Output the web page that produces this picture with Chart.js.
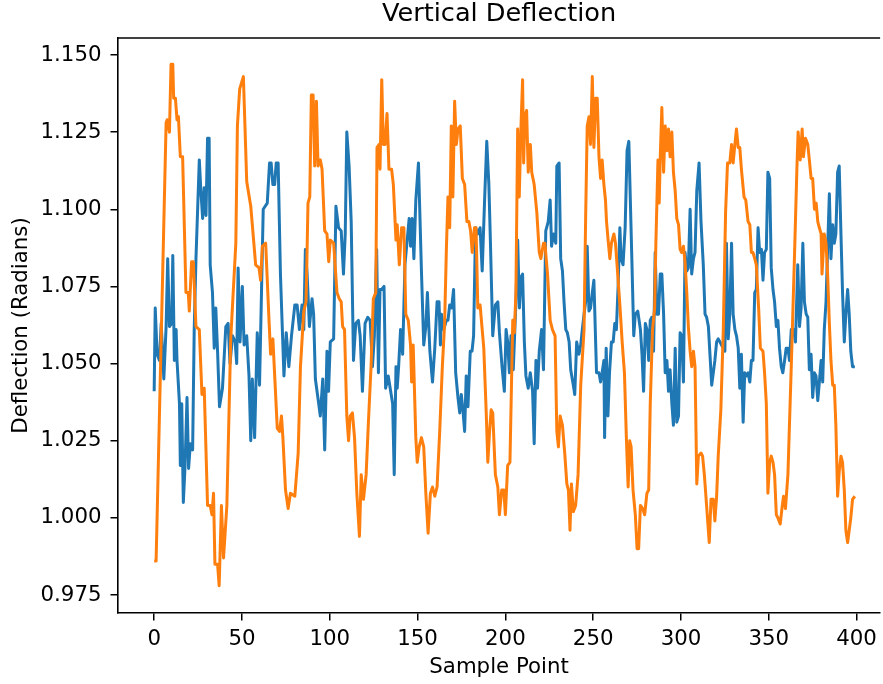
<!DOCTYPE html>
<html><head><meta charset="utf-8">
<script src="https://cdn.jsdelivr.net/npm/chart.js@4/dist/chart.umd.min.js"></script>
<style>html,body{margin:0;padding:0;background:#fff;}canvas{display:block;}</style>
</head><body>
<canvas id="c" width="883" height="684"></canvas>
<script>
const chartTitle = 'Vertical Deflection';
const xAxisLabel = 'Sample Point';
const yAxisLabel = 'Deflection (Radians)';
const xTickValues = [0, 50, 100, 150, 200, 250, 300, 350, 400];
const yTickValues = [0.975, 1.000, 1.025, 1.050, 1.075, 1.100, 1.125, 1.150];
const yTickLabels = ['0.975', '1.000', '1.025', '1.050', '1.075', '1.100', '1.125', '1.150'];

// [sample point, deflection]
const blueReadings = [[0,1.041],[0.6,1.068],[1.7,1.053],[3,1.051],[4,1.063],[5.5,1.045],[6.8,1.062],[7.7,1.084],[8.7,1.062],[10,1.063],[10.6,1.085],[11.5,1.051],[12.5,1.061],[13,1.051],[14.4,1.037],[14.9,1.017],[15.7,1.037],[16.6,1.005],[17.6,1.017],[18.7,1.039],[19.6,1.016],[20.6,1.024],[21.9,1.022],[22.8,1.061],[23.8,1.084],[25.7,1.116],[26.6,1.106],[27.6,1.097],[28.5,1.107],[29.5,1.098],[30.4,1.123],[31.3,1.123],[31.9,1.082],[33.2,1.073],[34.2,1.055],[35.1,1.068],[36.1,1.054],[37.2,1.036],[38.9,1.042],[40.8,1.062],[42.1,1.063],[43.2,1.050],[44.6,1.059],[46.1,1.057],[47,1.050],[47.8,1.081],[48.9,1.057],[50.2,1.075],[51.2,1.056],[52.7,1.059],[54,1.046],[55,1.025],[55.9,1.045],[57.2,1.026],[58.7,1.060],[60,1.043],[61,1.070],[62.1,1.100],[64.4,1.102],[65.7,1.115],[66.6,1.115],[67.6,1.108],[68.6,1.108],[69.5,1.115],[70.6,1.115],[71.9,1.079],[73.9,1.046],[75.2,1.060],[76.7,1.049],[78.2,1.059],[80.1,1.069],[81.4,1.069],[82.7,1.061],[84.2,1.069],[85.2,1.061],[86.1,1.087],[87.1,1.079],[88.4,1.062],[89.9,1.071],[90.8,1.066],[91.8,1.045],[93.7,1.037],[94.6,1.033],[96,1.045],[97.1,1.022],[98.4,1.054],[99.3,1.041],[100.3,1.057],[102.2,1.058],[103.5,1.101],[105,1.094],[106.5,1.093],[107.8,1.079],[108.8,1.092],[109.7,1.125],[111,1.114],[112.2,1.096],[113.5,1.051],[114.8,1.063],[116.3,1.064],[117.3,1.059],[118.6,1.041],[120.1,1.063],[121.6,1.065],[123,1.064],[124.3,1.049],[125.4,1.059],[126.7,1.087],[127.7,1.047],[128.6,1.074],[129.6,1.074],[130.9,1.075],[131.8,1.042],[133.3,1.046],[135.8,1.037],[136.7,1.014],[137.7,1.049],[138.4,1.042],[139.2,1.049],[140.3,1.061],[141.5,1.053],[142.8,1.082],[145.2,1.097],[146,1.088],[146.9,1.097],[147.9,1.084],[149,1.103],[150.5,1.115],[152.2,1.080],[153.5,1.056],[154.7,1.062],[155.6,1.073],[157,1.054],[158.5,1.044],[159.8,1.055],[161.1,1.070],[162.2,1.070],[163,1.056],[163.6,1.066],[164.9,1.061],[166.4,1.064],[167.3,1.064],[168.3,1.069],[169.4,1.068],[170.5,1.074],[171.7,1.047],[173,1.039],[174,1.034],[174.9,1.040],[175.8,1.035],[176.8,1.028],[177.7,1.046],[178.7,1.036],[180,1.054],[181,1.054],[181.9,1.059],[183,1.094],[184.3,1.092],[185.6,1.094],[186.8,1.080],[188.1,1.102],[189.4,1.122],[190.6,1.108],[191.5,1.089],[192.8,1.059],[194.3,1.069],[195.7,1.070],[196.6,1.060],[198.1,1.049],[199.4,1.041],[200.4,1.061],[201.3,1.057],[202.3,1.047],[203.2,1.059],[204.5,1.048],[206,1.070],[207,1.090],[208,1.068],[208.9,1.078],[209.8,1.079],[210.8,1.057],[211.7,1.046],[213,1.042],[214.2,1.047],[215.5,1.041],[216.4,1.024],[217.4,1.051],[218.3,1.042],[219.3,1.054],[220.6,1.061],[221.7,1.048],[223,1.093],[224.4,1.096],[225.5,1.103],[226.3,1.088],[227.4,1.092],[228.7,1.089],[229.3,1.114],[230.6,1.115],[231.5,1.084],[232.5,1.080],[233.4,1.070],[234.4,1.061],[235.3,1.060],[236.3,1.057],[237.2,1.048],[238.7,1.043],[239.5,1.040],[240.6,1.057],[241.9,1.053],[242.9,1.056],[243.8,1.061],[244.8,1.066],[245.7,1.070],[246.6,1.088],[247.6,1.067],[248.5,1.068],[249.5,1.073],[250.4,1.077],[251.4,1.057],[251.9,1.047],[253.3,1.047],[254.2,1.044],[255.1,1.047],[256.1,1.051],[256.5,1.026],[257.4,1.055],[258.4,1.033],[259.3,1.047],[260.4,1.057],[261.4,1.057],[262.3,1.063],[263.2,1.061],[264.2,1.075],[265.2,1.094],[265.9,1.084],[267,1.082],[268.2,1.094],[269.3,1.119],[270.3,1.122],[271.2,1.102],[272.1,1.082],[273.1,1.059],[274,1.066],[275.4,1.067],[276.9,1.061],[277.8,1.053],[278.7,1.041],[279.7,1.063],[280.6,1.061],[281.6,1.051],[282.5,1.064],[283.4,1.065],[284.4,1.054],[285.3,1.086],[286.3,1.066],[287.2,1.066],[288.2,1.079],[289.1,1.079],[290.1,1.066],[291,1.047],[292,1.051],[292.9,1.041],[293.8,1.048],[294.8,1.037],[295.7,1.030],[296.7,1.055],[297.6,1.031],[298.6,1.033],[299.5,1.060],[300.4,1.059],[301.4,1.044],[302.3,1.086],[303.3,1.080],[304.2,1.081],[305.2,1.100],[306.1,1.079],[307.1,1.084],[308,1.086],[309,1.106],[310.3,1.115],[311.4,1.096],[312.7,1.082],[313.7,1.066],[314.6,1.065],[315.6,1.062],[316.5,1.053],[317.5,1.043],[318.4,1.047],[319.3,1.051],[320.3,1.057],[321.2,1.058],[322.2,1.057],[323.1,1.056],[324,1.055],[325,1.054],[325.9,1.089],[326.9,1.058],[327.8,1.066],[328.8,1.089],[329.7,1.066],[330.7,1.061],[331.6,1.059],[332.6,1.055],[333.5,1.042],[334.4,1.053],[335.4,1.031],[336.3,1.047],[337.3,1.046],[338.2,1.047],[339.2,1.044],[340.1,1.051],[341,1.051],[342,1.073],[342.9,1.074],[343.9,1.094],[344.8,1.086],[345.8,1.087],[346.7,1.077],[347.6,1.086],[348.6,1.087],[349.5,1.112],[350.5,1.110],[351.4,1.081],[352.4,1.074],[353.3,1.070],[354.3,1.062],[355.2,1.064],[356.1,1.055],[357.1,1.049],[358,1.047],[359,1.051],[359.9,1.055],[360.9,1.055],[361.8,1.051],[362.8,1.061],[364.1,1.061],[365.2,1.057],[366.5,1.082],[367.5,1.062],[368.4,1.068],[369.4,1.089],[370.3,1.070],[371.3,1.066],[372.2,1.065],[373.1,1.048],[374.1,1.053],[375,1.039],[376,1.047],[376.9,1.046],[377.9,1.038],[378.8,1.044],[379.8,1.051],[380.7,1.044],[381.6,1.061],[382.6,1.070],[383.5,1.087],[384.5,1.105],[385.4,1.084],[386.4,1.095],[387.3,1.089],[388.2,1.092],[389.2,1.112],[390.1,1.114],[391.1,1.092],[392,1.073],[393,1.057],[393.9,1.066],[394.9,1.074],[395.8,1.066],[396.7,1.054],[397.7,1.049],[399,1.049]];

const orangeReadings = [[0,0.986],[1.1,0.986],[6.8,1.128],[7.4,1.129],[8.7,1.125],[9.6,1.147],[10.6,1.147],[11.1,1.136],[12.1,1.136],[13,1.129],[13.8,1.130],[14.9,1.117],[16.2,1.117],[18.1,1.073],[19.4,1.073],[20,1.067],[21.3,1.083],[22.3,1.083],[23.8,1.062],[25.7,1.061],[27.2,1.040],[28.5,1.042],[30.4,1.004],[31.9,1.004],[32.9,1.001],[33.8,1.008],[34.6,0.985],[36.1,0.985],[37,0.978],[38.3,1.004],[39.5,0.987],[41.4,1.004],[43.6,1.058],[46.5,1.089],[47.4,1.127],[48.7,1.139],[50.8,1.143],[52.7,1.109],[55,1.101],[57.8,1.082],[59.7,1.081],[60.6,1.077],[61.6,1.088],[63.5,1.089],[65.4,1.064],[66.3,1.053],[67.6,1.058],[70.1,1.029],[71.4,1.028],[72.5,1.033],[73.3,1.026],[74.8,1.009],[76.3,1.003],[77.6,1.008],[80.1,1.007],[82,1.021],[83.3,1.049],[85.2,1.067],[86.5,1.070],[87.6,1.102],[88.6,1.104],[89.5,1.137],[90.5,1.137],[91.4,1.114],[92.4,1.135],[93.3,1.114],[94.6,1.116],[95.6,1.113],[97.1,1.093],[98.4,1.092],[99.4,1.083],[100.3,1.090],[102.2,1.089],[104.1,1.073],[105.4,1.071],[106.5,1.070],[107.3,1.062],[108.4,1.061],[109.7,1.033],[110.7,1.025],[111.6,1.033],[112.9,1.034],[114.1,1.026],[115.4,1.008],[116.9,0.994],[117.9,1.014],[119.2,1.006],[120.7,1.014],[122,1.031],[123.5,1.049],[124.8,1.071],[126.2,1.073],[126.9,1.120],[128,1.121],[128.6,1.113],[129.6,1.142],[130.5,1.121],[131.5,1.121],[132.6,1.131],[133.7,1.113],[135.2,1.113],[136.2,1.108],[137.7,1.090],[138.4,1.095],[139.6,1.082],[140.9,1.094],[142.2,1.094],[143.3,1.066],[144.7,1.064],[146,1.056],[146.6,1.044],[147.5,1.056],[149,1.026],[149.8,1.018],[150.9,1.023],[152.2,1.026],[153.5,1.023],[154.7,1.008],[156,0.995],[157.3,1.008],[158.5,1.010],[159.8,1.007],[161.1,1.010],[162.6,1.028],[164.1,1.049],[165.4,1.063],[166.4,1.087],[167.3,1.104],[168.3,1.094],[169.2,1.127],[170.1,1.104],[171.1,1.135],[172.1,1.121],[173,1.126],[174.3,1.127],[175.5,1.110],[176.8,1.108],[178.1,1.096],[179.2,1.096],[180.2,1.093],[181.1,1.086],[182.4,1.094],[183.3,1.094],[184.3,1.068],[185.6,1.069],[186.8,1.061],[187.7,1.055],[189.1,1.034],[190,1.018],[191,1.028],[191.9,1.035],[192.8,1.034],[194.3,1.014],[195.7,1.010],[196.6,1.001],[197.9,1.009],[199.1,1.009],[200,1.001],[201.3,1.017],[202.6,1.018],[204.2,1.064],[205.1,1.060],[206,1.073],[207,1.126],[207.9,1.104],[208.9,1.127],[209.8,1.142],[210.4,1.115],[211.1,1.130],[212.1,1.132],[213,1.112],[214.2,1.121],[215,1.112],[216.4,1.108],[217.9,1.099],[219.3,1.086],[220.2,1.084],[221.7,1.089],[222.5,1.089],[224,1.079],[225.5,1.064],[226.8,1.061],[228.3,1.059],[229.3,1.028],[230.2,1.023],[231.2,1.033],[232.5,1.030],[233.8,1.021],[235,1.011],[235.9,1.009],[236.8,0.996],[237.6,1.011],[238.7,1.002],[240,1.004],[241.4,1.014],[242.9,1.043],[244.8,1.061],[245.7,1.097],[246.6,1.127],[247.6,1.130],[248.5,1.121],[249.5,1.143],[250.4,1.120],[251.4,1.136],[252.3,1.136],[253.3,1.117],[254.2,1.110],[255.1,1.116],[256.1,1.108],[257,1.103],[257.6,1.096],[258.5,1.090],[259.5,1.084],[260.4,1.089],[261.8,1.092],[262.7,1.089],[263.6,1.082],[265.2,1.069],[266.5,1.057],[267.8,1.047],[268.9,1.026],[269.9,1.010],[270.8,1.025],[271.6,1.023],[272.7,1.009],[274,1.001],[275,0.990],[275.9,0.990],[276.9,1.004],[278.2,1.003],[279.3,1.001],[280.6,1.008],[281.6,1.009],[282.5,1.037],[283.8,1.061],[285,1.068],[285.7,1.089],[286.9,1.116],[287.6,1.102],[288.2,1.117],[289.1,1.133],[290.1,1.112],[291,1.127],[292,1.119],[292.9,1.126],[293.8,1.117],[294.8,1.125],[295.7,1.112],[296.7,1.106],[297.6,1.097],[298.6,1.095],[299.5,1.087],[300.4,1.086],[301.4,1.088],[302.3,1.083],[303.3,1.073],[304.2,1.062],[305.2,1.054],[306.1,1.049],[307.1,1.054],[308,1.049],[309,1.011],[309.9,1.020],[311.4,1.021],[312.3,1.020],[313.3,1.014],[314.2,1.007],[315.2,0.999],[316.1,0.992],[317.1,1.006],[318.4,1.006],[319.3,0.999],[320.3,1.007],[321.2,1.020],[322.7,1.035],[324.1,1.061],[325.4,1.099],[326.5,1.115],[327.8,1.115],[328.8,1.121],[329.7,1.115],[330.7,1.121],[331.6,1.126],[332.6,1.120],[333.5,1.120],[334.4,1.113],[335.9,1.104],[336.9,1.103],[338.2,1.096],[339.2,1.095],[340.1,1.086],[341,1.086],[342,1.084],[342.9,1.082],[344.3,1.067],[345.2,1.055],[346.7,1.054],[347.6,1.047],[348.6,1.037],[349.5,1.008],[350.5,1.018],[351.4,1.020],[352.4,1.018],[353.3,1.014],[354.3,1.001],[355.2,1.000],[356.5,0.998],[357.7,1.004],[358.4,1.007],[359.5,1.003],[360.9,1.014],[362.8,1.049],[364.6,1.084],[366,1.113],[366.7,1.125],[367.9,1.116],[369,1.126],[369.7,1.117],[370.9,1.123],[372.2,1.121],[373.1,1.116],[374.1,1.110],[375,1.110],[376,1.100],[377,1.102],[377.9,1.096],[378.8,1.094],[379.8,1.092],[380.3,1.079],[381.6,1.092],[382.6,1.089],[383.5,1.079],[384.5,1.063],[385.4,1.051],[386.4,1.043],[387.3,1.043],[388.2,1.030],[389.2,1.007],[390.1,1.015],[391.1,1.020],[392,1.018],[393,1.009],[393.9,0.996],[394.9,0.992],[395.8,0.996],[396.7,1.000],[397.7,1.006],[399,1.007]];

const FONT = "'DejaVu Sans', sans-serif";
const toPoints = arr => arr.map(([x, y]) => ({ x, y }));

const topSpine = {
  id: 'topSpine',
  afterDraw(chart) {
    const { ctx, chartArea: a } = chart;
    ctx.save();
    ctx.strokeStyle = '#000';
    ctx.lineWidth = 1.6;
    ctx.beginPath();
    ctx.moveTo(a.left, a.top);
    ctx.lineTo(a.right, a.top);
    ctx.stroke();
    ctx.restore();
  }
};

new Chart(document.getElementById('c'), {
  type: 'line',
  data: {
    datasets: [
      { label: 'blue', data: toPoints(blueReadings), borderColor: '#1f77b4', borderWidth: 3, pointRadius: 0, tension: 0, fill: false, borderJoinStyle: 'round', order: 1 },
      { label: 'orange', data: toPoints(orangeReadings), borderColor: '#ff7f0e', borderWidth: 3, pointRadius: 0, tension: 0, fill: false, borderJoinStyle: 'round', order: 0 }
    ]
  },
  options: {
    responsive: false,
    animation: false,
    devicePixelRatio: 1,
    layout: { padding: 0 },
    plugins: {
      legend: { display: false },
      tooltip: { enabled: false },
      title: {
        display: true, text: chartTitle, fullSize: false, color: '#000',
        font: { family: FONT, size: 25.6, weight: 'normal', lineHeight: 1.1 },
        padding: { top: 0, bottom: 9.8 }
      }
    },
    scales: {
      x: {
        type: 'linear', min: -20.6, max: 413.4,
        afterBuildTicks: s => { s.ticks = xTickValues.map(v => ({ value: v })); },
        afterFit: s => { s.height = 71; },
        ticks: { color: '#000', font: { family: FONT, size: 21.3 }, padding: 6, maxRotation: 0, autoSkip: false, callback: v => String(v) },
        grid: { drawOnChartArea: false, drawTicks: true, tickLength: 7.5, color: '#000', lineWidth: 1.5 },
        border: { display: true, color: '#000', width: 1.6 },
        title: { display: true, text: xAxisLabel, color: '#000', font: { family: FONT, size: 21.3 }, padding: { top: 0, bottom: 3.5 } }
      },
      y: {
        type: 'linear', min: 0.96917, max: 1.15551,
        afterBuildTicks: s => { s.ticks = yTickValues.map(v => ({ value: v })); },
        afterFit: s => { s.width = 118; },
        ticks: { color: '#000', font: { family: FONT, size: 21.3 }, padding: 9, autoSkip: false,
          callback: (v) => { const k = yTickValues.findIndex(t => Math.abs(t - v) < 1e-9); return k >= 0 ? yTickLabels[k] : ''; } },
        grid: { drawOnChartArea: false, drawTicks: true, tickLength: 7.5, color: '#000', lineWidth: 1.5 },
        border: { display: true, color: '#000', width: 1.6 },
        title: { display: true, text: yAxisLabel, color: '#000', font: { family: FONT, size: 21.3 }, padding: { top: 8.7, bottom: 0 } }
      }
    }
  },
  plugins: [topSpine]
});
</script>
</body></html>
